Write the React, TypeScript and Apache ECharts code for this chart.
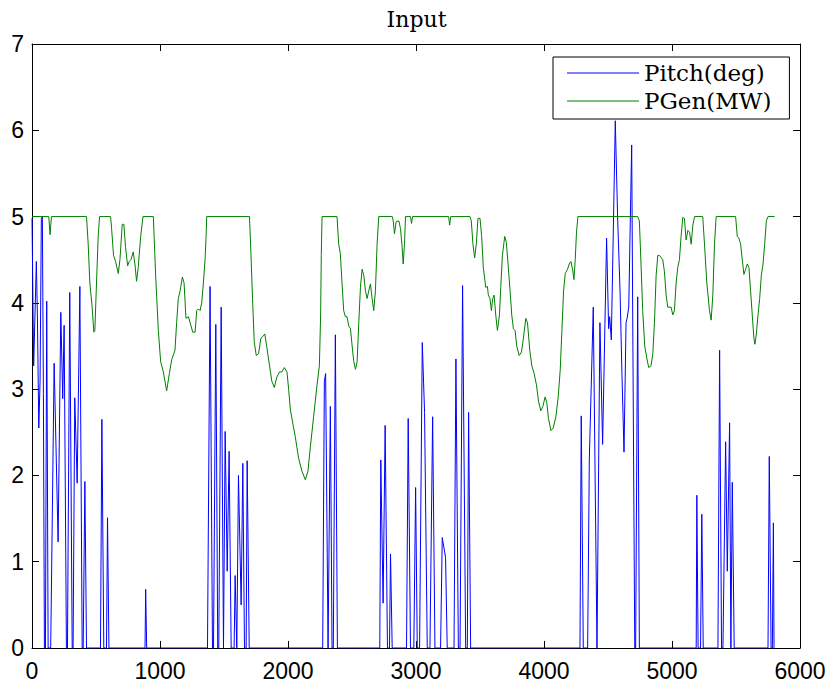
import React, { useEffect, useRef } from "react";
import * as echarts from "echarts";

const chartTitle = "Input";
const seriesNames = ["Pitch(deg)", "PGen(MW)"];
const xRange = [0, 6000, 1000];
const yRange = [0, 7, 1];

const pitchData: [number, number][] = [
  [0, 4.98], [13, 3.27], [34, 4.48], [42, 3.86], [53, 2.55], [63, 3.09], [73, 4.98], [81, 5.0], [89, 2.95], [97, 0],
  [105, 0], [115, 4.02], [126, 0], [146, 0], [173, 3.3], [204, 1.23], [225, 3.89], [240, 2.89], [251, 3.74], [269, 0],
  [277, 0], [295, 4.12], [314, 0], [321, 0], [334, 2.9], [353, 1.91], [374, 4.19], [392, 0], [400, 0], [413, 1.93],
  [426, 0], [535, 0], [546, 2.65], [561, 0], [582, 0], [590, 1.51], [601, 0], [883, 0], [888, 0.68], [896, 0],
  [1371, 0], [1391, 4.19], [1410, 0], [1418, 0], [1436, 3.75], [1451, 0], [1459, 0], [1478, 3.95], [1496, 0], [1501, 0],
  [1509, 2.51], [1525, 0.89], [1540, 2.28], [1556, 0], [1579, 0], [1587, 0.84], [1600, 0], [1605, 0], [1613, 2.0], [1634, 0.5],
  [1647, 2.14], [1660, 0], [1673, 0], [1681, 2.17], [1697, 0], [2271, 0], [2284, 3.09], [2294, 3.18], [2313, 0], [2318, 0],
  [2331, 2.8], [2344, 0], [2354, 0], [2370, 3.63], [2386, 0], [2717, 0], [2725, 2.18], [2743, 0.52], [2759, 2.58], [2777, 0],
  [2793, 0], [2801, 1.09], [2814, 0], [2926, 0], [2939, 2.66], [2957, 0], [2983, 0], [2997, 1.86], [3010, 0], [3028, 0],
  [3049, 3.54], [3067, 2.73], [3088, 0], [3109, 0], [3130, 2.68], [3148, 0], [3192, 0], [3205, 1.28], [3231, 1.05], [3244, 0],
  [3297, 0], [3312, 3.35], [3331, 0], [3344, 0], [3364, 4.2], [3388, 0], [3401, 0], [3411, 2.73], [3427, 0], [4281, 0],
  [4291, 2.69], [4307, 0], [4341, 0], [4354, 2.18], [4385, 3.95], [4414, 0], [4419, 0], [4437, 3.77], [4458, 2.36], [4489, 4.75],
  [4505, 3.7], [4513, 3.84], [4526, 3.57], [4557, 6.11], [4575, 5.0], [4594, 4.14], [4609, 3.18], [4625, 2.27], [4641, 3.77], [4649, 3.82],
  [4662, 3.95], [4685, 5.83], [4709, 0], [4716, 0], [4732, 4.07], [4745, 0], [5189, 0], [5194, 1.77], [5204, 0], [5223, 0],
  [5233, 1.55], [5244, 0], [5359, 0], [5372, 3.45], [5387, 0], [5398, 0], [5419, 2.39], [5432, 0.89], [5450, 2.61], [5460, 0],
  [5465, 0], [5471, 1.92], [5486, 0], [5750, 0], [5760, 2.22], [5774, 0], [5784, 0], [5792, 1.45], [5797, 0],
];

const pgenData: [number, number][] = [
  [0, 5], [131, 5], [141, 4.79], [152, 5], [426, 5], [439, 4.68], [452, 4.23], [470, 3.95], [483, 3.66], [491, 3.68],
  [504, 4.23], [517, 4.77], [528, 5], [614, 5], [622, 4.86], [637, 4.55], [653, 4.48], [674, 4.34], [687, 4.5], [705, 4.91],
  [718, 4.91], [731, 4.64], [747, 4.43], [760, 4.48], [773, 4.5], [791, 4.59], [804, 4.45], [817, 4.25], [830, 4.41], [849, 4.77],
  [867, 5], [948, 5], [966, 4.32], [987, 3.68], [1005, 3.32], [1026, 3.2], [1052, 2.98], [1073, 3.18], [1091, 3.34], [1117, 3.45],
  [1130, 3.77], [1143, 4.05], [1157, 4.14], [1175, 4.3], [1188, 4.23], [1203, 3.82], [1222, 3.84], [1235, 3.77], [1256, 3.66], [1274, 3.66],
  [1287, 3.91], [1300, 3.93], [1313, 3.91], [1326, 4.0], [1339, 4.23], [1352, 4.5], [1360, 4.77], [1365, 5], [1699, 5], [1710, 4.59],
  [1723, 4.05], [1736, 3.55], [1752, 3.39], [1770, 3.41], [1788, 3.59], [1804, 3.61], [1819, 3.64], [1835, 3.48], [1856, 3.27], [1874, 3.09],
  [1893, 3.02], [1913, 3.14], [1934, 3.2], [1953, 3.2], [1971, 3.25], [1992, 3.2], [2005, 3.0], [2018, 2.77], [2039, 2.59], [2057, 2.45],
  [2070, 2.32], [2083, 2.2], [2109, 2.05], [2135, 1.95], [2156, 2.05], [2174, 2.32], [2200, 2.68], [2227, 3.05], [2245, 3.27], [2255, 3.86],
  [2260, 4.55], [2266, 5], [2383, 5], [2396, 4.68], [2409, 4.57], [2422, 4.23], [2435, 3.91], [2448, 3.84], [2461, 3.84], [2475, 3.73],
  [2488, 3.7], [2501, 3.5], [2514, 3.32], [2527, 3.23], [2540, 3.32], [2553, 3.77], [2566, 4.18], [2579, 4.39], [2592, 4.32], [2605, 4.14],
  [2618, 4.05], [2631, 4.14], [2644, 4.22], [2657, 4.05], [2670, 3.91], [2683, 4.14], [2696, 4.68], [2709, 5], [2814, 5], [2822, 4.95],
  [2832, 4.8], [2845, 4.94], [2866, 4.95], [2879, 4.86], [2892, 4.64], [2900, 4.45], [2910, 4.68], [2918, 5], [2957, 5], [2965, 4.92],
  [2973, 5], [3255, 5], [3263, 4.9], [3271, 5], [3422, 5], [3432, 4.95], [3445, 4.68], [3458, 4.52], [3471, 4.68], [3484, 4.98],
  [3500, 4.98], [3513, 4.77], [3526, 4.41], [3545, 4.18], [3558, 4.19], [3565, 4.09], [3578, 4.05], [3589, 3.91], [3599, 4.05], [3610, 4.09],
  [3623, 3.86], [3636, 3.68], [3652, 3.86], [3662, 4.18], [3675, 4.55], [3693, 4.77], [3706, 4.7], [3719, 4.45], [3735, 4.14], [3748, 3.86],
  [3761, 3.7], [3774, 3.68], [3787, 3.5], [3806, 3.39], [3824, 3.43], [3839, 3.59], [3858, 3.82], [3871, 3.77], [3889, 3.45], [3905, 3.27],
  [3923, 3.18], [3941, 3.05], [3957, 2.86], [3975, 2.75], [3991, 2.8], [4009, 2.91], [4022, 2.84], [4035, 2.66], [4054, 2.52], [4072, 2.55],
  [4093, 2.68], [4111, 2.91], [4127, 3.23], [4140, 3.68], [4153, 4.14], [4166, 4.34], [4184, 4.39], [4197, 4.45], [4210, 4.48], [4223, 4.39],
  [4234, 4.27], [4244, 4.5], [4254, 4.82], [4265, 5], [4732, 5], [4745, 4.95], [4758, 4.45], [4771, 3.91], [4787, 3.5], [4803, 3.36],
  [4818, 3.25], [4836, 3.27], [4850, 3.41], [4863, 3.77], [4876, 4.32], [4889, 4.55], [4902, 4.55], [4928, 4.5], [4941, 4.36], [4954, 4.09],
  [4967, 3.95], [4993, 3.95], [5006, 3.86], [5019, 3.91], [5032, 4.23], [5045, 4.41], [5058, 4.5], [5071, 4.77], [5084, 4.99], [5097, 4.98],
  [5110, 4.73], [5124, 4.84], [5137, 4.82], [5150, 4.68], [5163, 4.9], [5176, 5], [5240, 5], [5254, 4.68], [5272, 4.23], [5293, 3.91],
  [5306, 3.8], [5319, 4.09], [5332, 4.68], [5345, 5], [5497, 5], [5510, 4.77], [5523, 4.75], [5536, 4.68], [5549, 4.5], [5562, 4.33],
  [5575, 4.39], [5588, 4.45], [5601, 4.41], [5614, 4.14], [5627, 3.86], [5640, 3.59], [5648, 3.52], [5659, 3.64], [5672, 3.86], [5685, 4.05],
  [5698, 4.32], [5711, 4.45], [5724, 4.68], [5737, 4.95], [5750, 5], [5802, 5],
];

const seriesColors = ["#0000ff", "#008000"];

export default function App() {
  const ref = useRef<HTMLDivElement>(null);

  useEffect(() => {
    document.body.style.margin = "0";
    const chart = echarts.init(ref.current!, null, { renderer: "svg" });
    const axisLine = { show: true, onZero: false, lineStyle: { color: "#000", width: 1 } };
    const tick = { show: true, inside: true, length: 7, lineStyle: { color: "#000", width: 1 } };
    const labelStyle = {
      fontFamily: "Liberation Sans",
      fontSize: 23,
      color: "#000",
      formatter: (v: number) => String(v),
    };
    const xBase = { type: "value", min: xRange[0], max: xRange[1], interval: xRange[2], splitLine: { show: false }, axisLine, axisTick: tick };
    const yBase = { type: "value", min: yRange[0], max: yRange[1], interval: yRange[2], splitLine: { show: false }, axisLine, axisTick: tick };

    chart.setOption({
      animation: false,
      backgroundColor: "#fff",
      title: {
        text: chartTitle,
        left: "center",
        top: 3,
        textStyle: { fontFamily: "DejaVu Serif", fontSize: 22, fontWeight: "normal", color: "#000" },
      },
      legend: {
        data: seriesNames.map((n) => ({ name: n, icon: "rect" })),
        orient: "vertical",
        left: 553,
        top: 57,
        padding: [4, 18, 6, 14],
        itemGap: 4,
        itemWidth: 72,
        itemHeight: 1.2,
        borderColor: "#000",
        borderWidth: 1,
        borderRadius: 0,
        backgroundColor: "#fff",
        textStyle: { fontFamily: "DejaVu Serif", fontSize: 23, color: "#000", lineHeight: 24 },
      },
      grid: { left: 32, right: 33, top: 44, bottom: 42, containLabel: false },
      xAxis: [
        { ...xBase, position: "bottom", axisLabel: { ...labelStyle, margin: 11 } },
        { ...xBase, position: "top", axisLabel: { show: false } },
      ],
      yAxis: [
        { ...yBase, position: "left", axisLabel: { ...labelStyle, margin: 8 } },
        { ...yBase, position: "right", axisLabel: { show: false } },
      ],
      series: [
        {
          name: seriesNames[0],
          type: "line",
          data: pitchData,
          symbol: "none",
          xAxisIndex: 0,
          yAxisIndex: 0,
          lineStyle: { color: seriesColors[0], width: 1 },
          itemStyle: { color: seriesColors[0] },
        },
        {
          name: seriesNames[1],
          type: "line",
          data: pgenData,
          symbol: "none",
          xAxisIndex: 0,
          yAxisIndex: 0,
          lineStyle: { color: seriesColors[1], width: 1 },
          itemStyle: { color: seriesColors[1] },
        },
      ],
    });
    return () => chart.dispose();
  }, []);

  return <div ref={ref} style={{ width: 833, height: 690 }} />;
}
